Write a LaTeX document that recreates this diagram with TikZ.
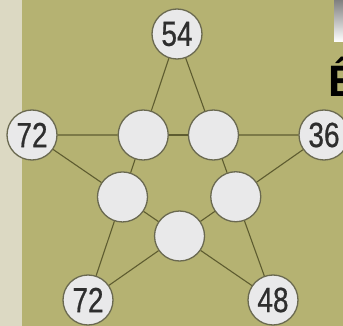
\documentclass[tikz,border=0pt]{standalone}
\usepackage{fontspec}
\newfontfamily\digitfont[FakeStretch=0.8,FakeBold=0.6]{Liberation Sans}
\newfontfamily\headfont{Liberation Sans}
\definecolor{board}{HTML}{B5B272}
\definecolor{margin}{HTML}{DCD9C3}
\definecolor{shade}{HTML}{A2A187}
\definecolor{edge}{HTML}{5E5C30}
\definecolor{rim}{HTML}{6A6950}
\definecolor{disc}{HTML}{E9E9EA}
\definecolor{ink}{HTML}{2E2E2E}

\begin{document}
\begin{tikzpicture}[
    x=1pt, y=-1pt,
    spot/.style={circle, draw=rim, line width=1.3pt, fill=disc,
                 minimum size=50pt, inner sep=0pt},
    given/.style={spot, text=ink, font=\digitfont\fontsize{35}{35}\selectfont},
    link/.style={draw=edge, line width=1.1pt}
]
\useasboundingbox (0,0) rectangle (343,326);
\clip (0,0) rectangle (343,326);
% page background
\fill[board] (0,0) rectangle (343,326);
\fill[margin] (0,0) rectangle (22,326);
\fill[shade] (334,0) rectangle (343,42);
\node[anchor=base west, text=black, inner sep=0pt,
      font=\headfont\bfseries\fontsize{44}{44}\selectfont] (head) at (328,97) {Ê};
% star points
\coordinate (p1) at (177,34);
\coordinate (p2) at (32,135);
\coordinate (p3) at (324,135);
\coordinate (p4) at (88,300);
\coordinate (p5) at (273,300);
\foreach \i/\v in {1/54,2/72,3/36,4/72,5/48} { \node[given] (o\i) at (p\i) {\v}; }
% inner pentagon
\node[spot] (c1) at (intersection of p1--p4 and p2--p3) {};
\node[spot] (c2) at (intersection of p1--p5 and p2--p3) {};
\node[spot] (c3) at (intersection of p1--p4 and p2--p5) {};
\node[spot] (c4) at (intersection of p1--p5 and p3--p4) {};
\node[spot] (c5) at (intersection of p2--p5 and p3--p4) {};
\foreach \a/\b in {o1/c1,c1/c3,c3/o4,o1/c2,c2/c4,c4/o5,o2/c1,c1/c2,c2/o3,
                   o2/c3,c3/c5,c5/o5,o3/c4,c4/c5,c5/o4}
  { \draw[link] (\a) -- (\b); }
\end{tikzpicture}
\end{document}
